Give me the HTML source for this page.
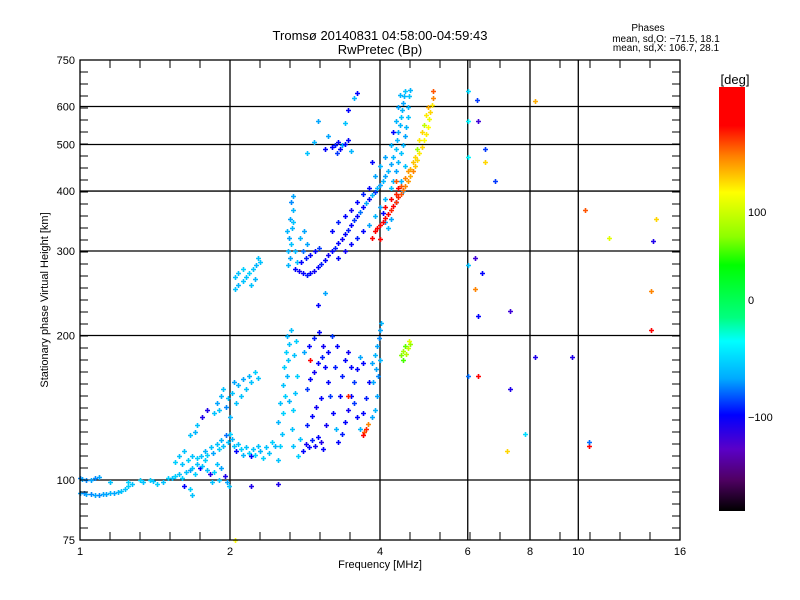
<!DOCTYPE html>
<html><head><meta charset="utf-8"><title>Ionogram</title>
<style>
html,body{margin:0;padding:0;background:#fff;}
svg{display:block;font-family:"Liberation Sans","DejaVu Sans",sans-serif;}
</style></head>
<body>
<svg id="chart" width="800" height="600" viewBox="0 0 800 600">
<defs>
<linearGradient id="cbar" x1="0" y1="1" x2="0" y2="0">
</linearGradient>
</defs>
<rect x="0" y="0" width="800" height="600" fill="#fff"/>
<text x="380" y="40" text-anchor="middle" font-size="13">Tromsø 20140831 04:58:00-04:59:43</text>
<text x="380" y="54" text-anchor="middle" font-size="13">RwPretec (Bp)</text>
<text x="648" y="31" text-anchor="middle" font-size="10">Phases</text>
<text x="666" y="42" text-anchor="middle" font-size="10">mean, sd,O: −71.5, 18.1</text>
<text x="666" y="51" text-anchor="middle" font-size="10">mean, sd,X: 106.7, 28.1</text>
<g id="grid"></g>
<g id="points"></g>
<rect x="80" y="60" width="600" height="480" fill="none" stroke="#000" stroke-width="1.3"/>
<g id="ticks"></g>
<g id="xlabels"></g>
<g id="ylabels"></g>
<text x="380" y="568" text-anchor="middle" font-size="11">Frequency [MHz]</text>
<text transform="translate(48,300) rotate(-90)" text-anchor="middle" font-size="11">Stationary phase Virtual Height [km]</text>
<text x="735" y="84" text-anchor="middle" font-size="13">[deg]</text>
<rect x="719" y="87" width="26" height="424" fill="url(#cbar)"/>
<text x="748" y="216" font-size="11">100</text>
<text x="748" y="304" font-size="11">0</text>
<text x="748" y="421" font-size="11">−100</text>
</svg>
<script>
const xTicks = [1, 2, 4, 6, 8, 10, 16];
const xTickLabels = ["1", "2", "4", "6", "8", "10", "16"];
const xGrid = [2, 4, 6, 8, 10];
const yTicks = [75, 100, 200, 300, 400, 500, 600, 750];
const yTickLabels = ["75", "100", "200", "300", "400", "500", "600", "750"];
const yGrid = [100, 200, 300, 400, 500, 600];
const phaseStops = [180, 147, 121, 90, 52, 28, -17, -37, -69, -100, -129, -155, -182];
const phaseColors = ["#ff0000","#ff0000","#ff8000","#ffff00","#8cff00","#00ff00","#00ff80","#00ffff","#00aaff","#0000ff","#5a00c8","#500064","#000000"];

// [freq MHz, height km, phase deg]
const eTrace = [[1.00,94,-70],[1.02,94,-75],[1.03,93.5,-70],[1.05,93.5,-75],[1.07,93,-70],[1.09,93,-75],[1.11,93.5,-70],[1.13,93.5,-70],[1.15,94,-65],[1.17,94,-70],[1.19,94.5,-65],[1.21,95,-60],[1.23,96,-60],[1.25,97,-55],
[1.00,101,-75],[1.01,100.5,-70],[1.03,100,-75],[1.05,100,-70],[1.07,101,-75],[1.09,101.5,-70],
[1.15,99,-60],[1.25,99,-55],[1.27,98,-60],[1.32,100,-55],[1.34,99,-60],[1.38,100,-55],[1.40,99.5,-60],[1.43,98,-55],[1.47,99,-60],[1.50,101,-55],[1.53,101,-60],[1.55,102,-55],[1.58,103,-60],[1.60,101,-55],[1.63,104,-60],[1.66,105,-70],[1.68,106,-60],[1.70,103,-55],[1.72,108,-60],[1.74,106,-100],[1.76,107,-60],[1.78,110,-55],[1.80,105,-60],[1.82,103,-110],[1.84,99,-60],[1.86,104,-55],[1.88,108,-60],[1.90,100,-60],[1.92,106,-70],[1.95,102,-110],[1.97,99,-70],[1.99,97,-60],[1.66,96,-55],[1.68,93,-60],[1.62,97,-100]];
const eScatter = [[1.75,112,-60],[1.78,115,-65],[1.80,113,-55],[1.83,117,-60],[1.85,114,-70],[1.88,119,-60],[1.90,116,-55],[1.92,121,-65],[1.94,118,-60],[1.96,124,-80],[1.98,120,-60],[2.00,125,-55],[2.02,122,-65],[2.04,118,-60],[2.06,115,-100],[2.08,119,-60],[2.10,116,-55],[2.12,113,-65],[2.15,117,-60],[2.18,114,-55],[2.20,112,-100],[2.22,116,-60],[2.25,113,-55],[2.28,118,-60],[2.30,115,-65],[2.33,111,-55],[2.36,117,-60],[2.40,114,-60],[2.43,120,-55],[2.46,118,-65],
[1.86,138,-60],[1.88,145,-70],[1.90,140,-60],[1.92,150,-65],[1.94,155,-60],[1.96,142,-75],[1.98,148,-60],[2.00,135,-65],[2.02,152,-60],[2.04,160,-70],[2.06,145,-60],[2.08,158,-65],[2.10,150,-60],[2.12,162,-70],[2.15,155,-60],[2.18,165,-65],[2.20,160,-60],[2.24,168,-55],[2.28,163,-60],[1.80,140,-110],[1.76,135,-110],[1.72,130,-60],[1.70,126,-65],[1.66,124,-60],[1.62,115,-60],[1.58,112,-60],[1.55,109,-55],[1.60,108,-60],[1.65,110,-55],[1.68,112,-60],[1.72,111,-55]];
const esColumn = [[2.50,110,-60],[2.52,118,-55],[2.54,125,-60],[2.50,132,-65],[2.56,138,-55],[2.52,145,-60],[2.58,150,-55],[2.55,158,-60],[2.60,165,-65],[2.57,172,-55],[2.62,178,-60],[2.59,185,-55],[2.63,192,-60],[2.60,200,-65],[2.65,205,-60],[2.66,128,-60],[2.68,140,-55],[2.70,152,-60],[2.72,165,-55],[2.67,118,-60],[2.74,112,-55],[2.76,122,-60],[2.63,146,-65],[2.69,182,-60],[2.71,195,-55]];
const esBlue = [[2.80,115,-100],[2.84,119,-105],[2.88,117,-100],[2.92,121,-95],[2.96,118,-105],[3.00,123,-100],[3.04,120,-110],[3.08,116,-100],[2.86,130,-95],[2.92,136,-100],[2.98,142,-105],[3.04,148,-100],[2.85,155,-90],[2.90,162,-100],[2.95,168,-105],[3.00,175,-100],[3.06,180,-95],[3.10,172,-100],[2.82,185,-70],[2.88,190,-100],[2.95,198,-95],[3.02,203,-100],[3.08,190,-105],[3.14,160,-100],[3.18,150,-90],[3.22,138,-100],[3.26,128,-65],[3.30,120,-100],[3.35,125,-95],[3.40,132,-100],[3.45,140,-105],[3.50,150,-100],[3.55,160,-90],[3.60,170,-100],[3.65,180,-70],[3.70,175,-100],[3.35,165,-95],[3.40,178,-100],[3.45,185,-105],[3.50,172,-100],[3.55,145,-90],[3.60,135,-100],[3.65,128,-65],[3.70,138,-100],[3.75,148,-95],[3.80,160,-100],[3.28,190,-100],[3.20,200,-90],[3.15,185,-100],[3.25,172,-95],[3.32,150,-100],[3.12,130,-105],[2.90,178,160],[3.45,150,140]];
const esEdge = [[3.85,175,-70],[3.90,182,-65],[3.95,190,-70],[3.98,198,-75],[4.00,205,-70],[4.02,212,-65],[3.92,170,-70],[3.96,165,-75],[3.88,160,-70],[4.00,178,-65],[3.95,150,-70],[3.90,140,-65],[3.86,135,-70],[3.72,126,130],[3.75,128,140],[3.78,131,120],[3.70,124,150],[4.40,182,50],[4.45,186,60],[4.50,190,45],[4.55,188,70],[4.60,192,55],[4.45,178,40],[4.52,183,65],[4.58,195,80]];
const fLeft = [[2.62,280,-65],[2.64,290,-70],[2.62,300,-65],[2.65,310,-60],[2.63,320,-70],[2.66,335,-65],[2.64,350,-70],[2.67,365,-65],[2.65,380,-75],[2.68,390,-70],[2.70,300,-65],[2.72,285,-60],[2.60,330,-65],[2.68,345,-60],
[2.70,275,-100],[2.75,272,-105],[2.80,270,-100],[2.85,268,-95],[2.90,270,-100],[2.95,272,-105],[3.00,278,-100],[3.05,282,-95],[3.10,288,-100],[3.15,294,-105],[2.78,285,-100],[2.84,290,-95],[2.90,295,-100],[2.96,300,-100],[3.02,305,-90],[2.80,300,-80],[2.86,310,-70],[2.76,320,-65],[2.82,330,-70],
[2.05,250,-60],[2.08,255,-65],[2.12,260,-60],[2.15,265,-60],[2.18,270,-55],[2.22,275,-60],[2.26,280,-65],[2.30,285,-60],[2.08,270,-60],[2.12,275,-55],[2.05,265,-60],[2.20,255,-60],[2.25,262,-65],[2.28,290,-60]];
const fRise = [[3.20,300,-100],[3.25,305,-95],[3.30,312,-100],[3.35,318,-105],[3.40,325,-100],[3.45,332,-95],[3.50,340,-100],[3.55,348,-90],[3.60,355,-100],[3.65,362,-80],[3.70,370,-100],[3.75,378,-70],[3.80,385,-100],[3.85,392,-65],[3.90,398,-90],[3.95,405,-65],[4.00,412,-70],[4.05,420,-65],[4.10,430,-70],[4.15,440,-65],[4.20,455,-70],[4.25,470,-65],[4.30,490,-60],[4.33,510,-65],[4.35,530,-70],[4.38,550,-65],[4.40,570,-60],[4.42,590,-65],[4.44,610,-70],[4.46,630,-65],[4.48,645,-60],
[3.30,290,-100],[3.40,300,-105],[3.50,310,-100],[3.60,320,-95],[3.70,330,-100],[3.80,340,-70],[3.90,355,-65],[4.00,370,-70],[4.10,385,-65],[4.20,405,-60],[4.25,420,-65],[4.30,440,-70],[4.35,460,-65],[4.40,480,-60],[4.45,500,-65],[4.50,520,-70],[4.52,545,-65],[4.55,570,-60],[4.56,600,-65],[4.58,630,-60],[4.60,650,-65],
[3.20,330,-100],[3.30,345,-95],[3.40,355,-100],[3.50,365,-105],[3.60,380,-100],[3.70,395,-95],[3.80,405,-100],[3.90,430,-70],[4.00,450,-65],[4.10,470,-70],[4.20,500,-65],[4.25,530,-100],[4.30,560,-65],[4.35,600,-70],[4.38,635,-65],
[4.05,360,-100],[4.10,345,-70],[4.15,335,-65],[4.20,350,-70],[4.30,380,-100],[4.40,420,-65],[4.50,450,-60],[4.45,400,-70],
[3.20,495,-100],[3.25,500,-95],[3.30,505,-100],[3.35,498,-70],[3.40,502,-100],[3.28,480,-90],[3.32,490,-100],[3.15,520,-70],[3.45,510,-100],[3.50,485,-65],[3.10,490,-100],
[3.60,640,-100],[3.55,625,-65],[3.45,590,-100],[3.40,555,-60],[3.85,460,-100],[3.00,560,-70],[2.95,505,-65],[2.85,480,-60]];
const xMode = [[3.90,330,160],[3.95,335,165],[4.00,340,150],[4.05,345,160],[4.10,352,155],[4.15,358,150],[4.20,365,140],[4.25,372,150],[4.30,380,135],[4.35,388,140],[4.40,395,130],[4.45,402,125],[4.50,410,120],[4.55,420,115],[4.60,430,110],[4.65,440,120],[4.70,452,105],[4.75,465,100],[4.80,480,95],[4.85,495,100],[4.90,510,90],[4.95,525,95],[5.00,545,90],[5.02,565,85],[5.05,585,100],[5.08,605,95],[5.10,625,120],[5.12,645,130],
[4.20,385,150],[4.30,395,140],[4.40,410,130],[4.50,425,120],[4.60,445,110],[4.70,470,100],[4.75,490,60],[4.80,510,95],[4.85,530,100],[4.90,550,70],[4.95,575,95],[5.00,600,110],
[4.10,370,160],[4.35,405,150],[4.55,440,115],[4.65,460,105],[3.85,320,150],[4.00,318,155],[4.30,420,130]];
const scattered = [[6.0,645,-50],[6.0,560,-40],[6.0,470,-40],[6.25,620,-90],[6.3,560,-120],[6.5,490,-90],[6.5,460,100],[6.8,420,-90],[6.2,290,-120],[6.0,280,-60],[6.4,270,-100],[6.2,250,120],[6.3,220,-100],[7.3,225,-120],[6.0,165,-80],[6.3,165,150],[7.3,155,-110],[7.2,115,100],[7.8,125,-50],[8.2,180,-110],[9.7,180,-110],[10.5,118,150],[10.5,120,-80],[8.2,615,110],[10.3,365,130],[11.5,320,80],[14.1,315,-110],[14.3,350,100],[14.0,248,120],[14.0,205,160],[2.05,75,90],[2.5,98,-110],[2.2,97,-110],[3.1,245,-70],[3.0,232,-100]];

const NS = "http://www.w3.org/2000/svg";
function xScale(f){ return 80 + 150 * Math.log2(f); }
function yScale(h){ return 540 - 480 * Math.log10(h / 75); }
function hex(c){ return [parseInt(c.substr(1,2),16),parseInt(c.substr(3,2),16),parseInt(c.substr(5,2),16)]; }
function phaseColor(p){
  for (let i = 0; i < phaseStops.length - 1; i++){
    const a = phaseStops[i], b = phaseStops[i+1];
    if (p <= a && p >= b){
      const t = (a - p) / (a - b), c1 = hex(phaseColors[i]), c2 = hex(phaseColors[i+1]);
      return "rgb(" + c1.map((v,k)=>Math.round(v + (c2[k]-v)*t)).join(",") + ")";
    }
  }
  return p > 0 ? phaseColors[0] : phaseColors[phaseColors.length-1];
}
function mk(tag, attrs, parent){ const el = document.createElementNS(NS, tag); for (const k in attrs) el.setAttribute(k, attrs[k]); parent.appendChild(el); return el; }

// colorbar gradient (offsets must increase: bottom = -182, top = 180)
const grad = document.getElementById("cbar");
for (let i = phaseStops.length - 1; i >= 0; i--){
  const st = mk("stop", {offset: ((phaseStops[i] + 182) / 362).toFixed(4), "stop-color": phaseColors[i]}, grad);
  
  
}

const grid = document.getElementById("grid");
xGrid.forEach(f => {
  const l = mk("line", {x1: xScale(f), x2: xScale(f), y1: 60, y2: 540, stroke: "#000", "stroke-width": 1.3}, grid);
  
  
});
yGrid.forEach(h => {
  const l = mk("line", {x1: 80, x2: 680, y1: yScale(h), y2: yScale(h), stroke: "#000", "stroke-width": 1.3}, grid);
  
  
});

const ticks = document.getElementById("ticks");
for (let x = 110; x < 680; x += 30){
  const t1 = mk("line", {x1: x, x2: x, y1: 540, y2: 532, stroke: "#000"}, ticks);
  
  
  const t2 = mk("line", {x1: x, x2: x, y1: 60, y2: 68, stroke: "#000"}, ticks);
  
  
}
for (let y = 72; y < 540; y += 12){
  const t1 = mk("line", {x1: 80, x2: 88, y1: y, y2: y, stroke: "#000"}, ticks);
  
  
  const t2 = mk("line", {x1: 680, x2: 672, y1: y, y2: y, stroke: "#000"}, ticks);
  
  
}

const xl = document.getElementById("xlabels");
xTicks.forEach((f, i) => {
  const t = mk("text", {x: xScale(f), y: 555, "text-anchor": "middle", "font-size": 11}, xl);
  t.textContent = xTickLabels[i];
  
  
});
const yl = document.getElementById("ylabels");
yTicks.forEach((h, i) => {
  const t = mk("text", {x: 75, y: yScale(h) + 4, "text-anchor": "end", "font-size": 11}, yl);
  t.textContent = yTickLabels[i];
  
  
});

const pts = document.getElementById("points");
[eTrace, eScatter, esColumn, esBlue, esEdge, fLeft, fRise, xMode, scattered].forEach(series => {
  series.forEach(d => {
    const x = Math.round(xScale(d[0])), y = Math.round(yScale(d[1])), c = phaseColor(d[2]);
    const p = mk("path", {d: "M" + (x-2) + " " + (y+0.5) + "h5M" + (x+0.5) + " " + (y-2) + "v5", stroke: c, "stroke-width": 1.6}, pts);
    
    
  });
});
</script>
</body></html>
